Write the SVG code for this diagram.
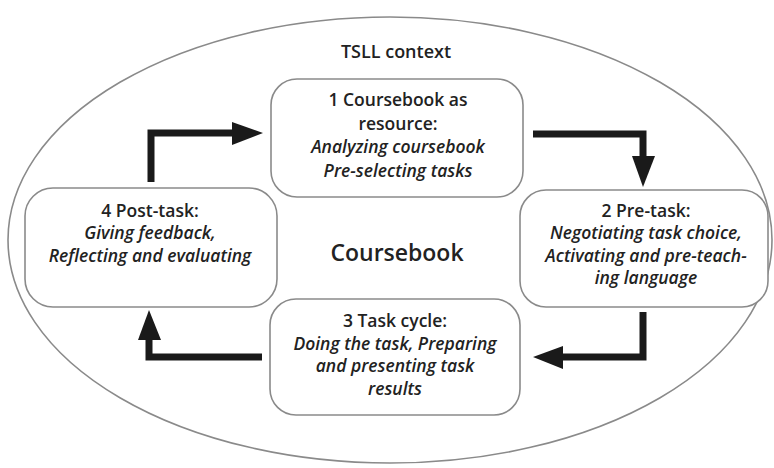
<svg xmlns="http://www.w3.org/2000/svg" width="774" height="468" viewBox="0 0 774 468">
<defs>
<style>
.box{fill:#fff;stroke:#8a8a8a;stroke-width:1.6}
.t{font-family:"Open Sans","Noto Sans",sans-serif;font-size:17.5px;fill:#222;text-anchor:middle}
.h{font-weight:600}
.i{font-weight:600;font-style:italic}
.arr{fill:none;stroke:#1a1a1a;stroke-width:7;stroke-linejoin:miter}
.head{fill:#1a1a1a}
</style>
</defs>
<rect width="774" height="468" fill="#fff"/>
<g id="context">
<ellipse cx="390" cy="240" rx="382" ry="223" fill="none" stroke="#8a8a8a" stroke-width="1.6"/>
<text class="t h" x="396" y="58" style="font-size:18px">TSLL context</text>
</g>
<g id="center">
<text class="t" x="397" y="261" style="font-size:23px;font-weight:600">Coursebook</text>
</g>
<g id="node1">
<rect class="box" x="271" y="79" width="252" height="118" rx="26"/>
<text class="t h" x="398" y="106">1 Coursebook as</text>
<text class="t h" x="398" y="130">resource:</text>
<text class="t i" x="398" y="153">Analyzing coursebook</text>
<text class="t i" x="398" y="177">Pre-selecting tasks</text>
</g>
<g id="node2">
<rect class="box" x="520" y="190" width="248" height="117" rx="26"/>
<text class="t h" x="646" y="217">2 Pre-task:</text>
<text class="t i" x="646" y="239">Negotiating task choice,</text>
<text class="t i" x="646" y="262">Activating and pre-teach-</text>
<text class="t i" x="646" y="284">ing language</text>
</g>
<g id="node3">
<rect class="box" x="270" y="299" width="250" height="116" rx="26"/>
<text class="t h" x="395" y="327">3 Task cycle:</text>
<text class="t i" x="395" y="350">Doing the task, Preparing</text>
<text class="t i" x="395" y="372">and presenting task</text>
<text class="t i" x="395" y="395">results</text>
</g>
<g id="node4">
<rect class="box" x="25" y="188" width="252" height="119" rx="28"/>
<text class="t h" x="150" y="217">4 Post-task:</text>
<text class="t i" x="150" y="239">Giving feedback,</text>
<text class="t i" x="150" y="262">Reflecting and evaluating</text>
</g>
<g id="connectors">
<path class="arr" d="M151 182 V133 H235"/>
<polygon class="head" points="232,122 263,133 232,145"/>
<path class="arr" d="M533 134 H643 V158"/>
<polygon class="head" points="632,156 643,187 655,156"/>
<path class="arr" d="M643 312 V357 H560"/>
<polygon class="head" points="563,346 533,357 563,369"/>
<path class="arr" d="M262 357 H149 V338"/>
<polygon class="head" points="138,340 149,310 161,340"/>
</g>
</svg>
